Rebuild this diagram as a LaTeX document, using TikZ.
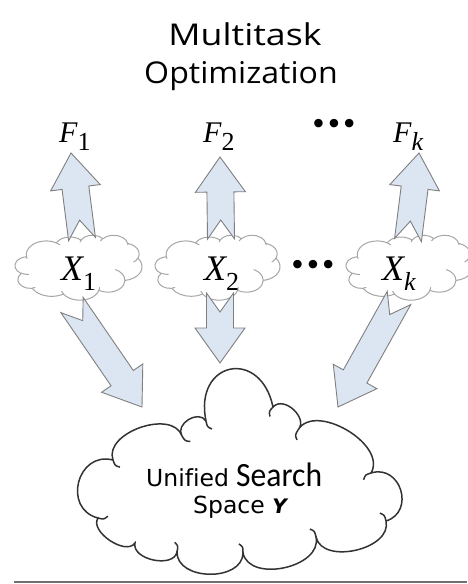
\documentclass[tikz,border=0pt]{standalone}
\usepackage{fontspec}
\setmainfont{Carlito}
\newfontfamily\titlefont{Open Sans}
\newfontfamily\djv[Ligatures=NoCommon]{DejaVu Sans}
\newfontfamily\lser{Liberation Serif}
\usetikzlibrary{calc}
\definecolor{arrowfill}{HTML}{DCE6F2}
\definecolor{arrowline}{HTML}{7F7F7F}
\definecolor{cloudgray}{HTML}{A6A6A6}
\definecolor{clouddark}{HTML}{333333}
\definecolor{rulegray}{HTML}{707070}
\tikzset{
  arrowbody/.style={draw=arrowline, fill=arrowfill, line width=0.9pt, line join=miter},
  smallcloud/.style={draw=cloudgray, fill=white, line width=1pt},
  smallhook/.style={draw=cloudgray, line width=1pt},
  bigcloud/.style={draw=clouddark, fill=white, line width=1.5pt},
  bighook/.style={draw=clouddark, line width=1.5pt},
  flabel/.style={anchor=base west, inner sep=0pt, font=\lser\fontsize{30}{30}\selectfont},
  xlabel/.style={anchor=base west, inner sep=0pt, font=\lser\fontsize{36}{36}\selectfont},
  dotslabel/.style={inner sep=0pt, font=\djv\bfseries\fontsize{24}{24}\selectfont},
  cloudtext/.style={anchor=base west, inner sep=0pt, font=\djv\fontsize{23.5}{23.5}\selectfont},
}
% elliptical arc with DrawingML (visual) angles
\newcommand{\pcarc}[4]{arc[x radius=#1, y radius=#2,
  start angle={atan2((#1)*sin(#3),(#2)*cos(#3))},
  delta angle={mod(atan2((#1)*sin((#3)+(#4)),(#2)*cos((#3)+(#4)))-atan2((#1)*sin(#3),(#2)*cos(#3))+720,360)}]}
% small cloud: left, top, width, height
\newcommand{\pptcloud}[4]{%
  \pgfmathsetmacro\cwx{#3/432}\pgfmathsetmacro\cwy{#4/432}%
  \begin{scope}[shift={(#1pt,-#2pt)}, x=\cwx pt, y=-\cwy pt]
    \path[smallcloud] (39,143.7)
      \pcarc{67.53}{91.90}{-190.48748}{123.78053}
      \pcarc{53.33}{72.67}{-144.10238}{89.94523}
      \pcarc{43.65}{59.45}{-145.80792}{99.72302}
      \pcarc{48.57}{65.95}{-130.98607}{117.24173}
      \pcarc{53.33}{72.73}{-78.70888}{109.02692}
      \pcarc{67.75}{92.20}{-46.26725}{130.269}
      \pcarc{57.85}{78.67}{0.62502}{114.03333}
      \pcarc{67.52}{92.15}{22.4516}{115.17255}
      \pcarc{77.20}{105.43}{66.24263}{75.71102}
      \pcarc{43.60}{59.18}{-274.94208}{146.73557}
      \pcarc{43.45}{59.45}{-246.8285}{152.51885} -- cycle;
    \path[smallhook]
      (46.93,261.77) \pcarc{43.45}{59.45}{86.742}{26.4295}
      (69.28,348.99) \pcarc{43.60}{59.18}{73.61047}{11.44747}
      (164.78,390.90) \pcarc{67.52}{92.15}{137.62415}{14.0811}
      (288.27,347.51) \pcarc{67.52}{92.15}{6.45327}{15.99835}
      (341.29,229.54) \pcarc{57.85}{78.67}{-70.29235}{70.91737}
      (417.98,153.54) \pcarc{53.33}{72.73}{30.31803}{27.7515}
      (383.24,54.26) \pcarc{48.57}{65.95}{-13.74433}{14.8589}
      (290.78,39.52) \pcarc{48.57}{65.95}{-149.18145}{18.19537}
      (221.41,47.20) \pcarc{43.65}{59.45}{-163.49427}{17.68635}
      (140.00,51.92) \pcarc{67.53}{91.90}{-66.70695}{12.31935}
      (41.27,157.89) \pcarc{67.53}{91.90}{157.65435}{11.85817};
  \end{scope}}
% one outward bump of the big cloud from cusp #1 to cusp #2
\newcommand{\bump}[3]{.. controls ($(#1)!#3pt!90:(#2)$) and ($(#2)!#3pt!-90:(#1)$) .. (#2)}
% inner hook at cusp #1, curving towards the next cusp #2
\newcommand{\hook}[2]{\draw[bighook] (#1) .. controls ($(#1)!6pt!-90:(#2)$) .. ($(#1)!10pt!-65:(#2)$);}
\def\aw{13.5pt}\def\ah{25pt}\def\al{35pt}\def\an{19pt}
% notched block arrow from tail coordinate #1 to tip coordinate #2
\newcommand{\blockarrow}[2]{%
  \draw[arrowbody] let \p1=(#1), \p2=(#2), \n1={atan2(\y2-\y1,\x2-\x1)} in
    ($(\p1)+(\n1+90:\aw)$) -- ($(\p1)+(\n1:\an)$) -- ($(\p1)+(\n1-90:\aw)$)
    -- ($(\p2)+(\n1+180:\al)+(\n1-90:\aw)$) -- ($(\p2)+(\n1+180:\al)+(\n1-90:\ah)$)
    -- (\p2) -- ($(\p2)+(\n1+180:\al)+(\n1+90:\ah)$)
    -- ($(\p2)+(\n1+180:\al)+(\n1+90:\aw)$) -- cycle;}
\begin{document}
\begin{tikzpicture}[x=1pt,y=-1pt]
\useasboundingbox (0,0) rectangle (467,584);
% title
\node[anchor=base, inner sep=0pt, font=\titlefont\fontsize{30}{30}\selectfont, xscale=1.19, transform shape] (title1) at (245,45) {Multitask};
\node[anchor=base, inner sep=0pt, font=\titlefont\fontsize{30}{30}\selectfont, xscale=1.07, transform shape] (title2) at (241,83) {Optimization};
% small clouds
\pptcloud{15}{235}{127}{65}
\pptcloud{155}{235}{125}{65}
\pptcloud{346}{235}{127}{65}
% big cloud cusps
\coordinate (c1) at (206,421);  \coordinate (c2) at (273,407);
\coordinate (c3) at (298,430);  \coordinate (c4) at (371,473);
\coordinate (c5) at (386,521);  \coordinate (c6) at (316,537);
\coordinate (c7) at (243,553);  \coordinate (c8) at (177,552);
\coordinate (c9) at (135,543);  \coordinate (c10) at (98,518);
\coordinate (c11) at (113,460); \coordinate (c12) at (182,436);
\draw[bigcloud] (c1) \bump{c1}{c2}{61} \bump{c2}{c3}{16} \bump{c3}{c4}{33}
  \bump{c4}{c5}{31} \bump{c5}{c6}{29} \bump{c6}{c7}{31} \bump{c7}{c8}{29}
  \bump{c8}{c9}{17} \bump{c9}{c10}{16} \bump{c10}{c11}{37} \bump{c11}{c12}{29}
  \bump{c12}{c1}{14} -- cycle;
\hook{c1}{c2} \hook{c2}{c3} \hook{c3}{c4} \hook{c4}{c5} \hook{c5}{c6}
\hook{c6}{c7} \hook{c7}{c8} \hook{c8}{c9} \hook{c10}{c11} \hook{c11}{c12}
\hook{c12}{c1}
% arrow end points
\coordinate (t1u) at (82,239);  \coordinate (h1u) at (71,153);
\coordinate (t2u) at (221,239); \coordinate (h2u) at (220,157);
\coordinate (tku) at (408,240); \coordinate (hku) at (419,153);
\coordinate (t1d) at (72,305);  \coordinate (h1d) at (142,407);
\coordinate (t2d) at (220,293); \coordinate (h2d) at (220,363);
\coordinate (tkd) at (399,298); \coordinate (hkd) at (338,407);
\blockarrow{t1u}{h1u}
\blockarrow{t2u}{h2u}
\blockarrow{tku}{hku}
\blockarrow{t1d}{h1d}
\blockarrow{t2d}{h2d}
\blockarrow{tkd}{hkd}
% labels
\node[flabel] (F1) at (59,142) {\itshape F\raisebox{-0.27em}{\fontsize{26}{26}\selectfont\upshape 1}};
\node[flabel] (F2) at (203,142) {\itshape F\raisebox{-0.27em}{\fontsize{26}{26}\selectfont\upshape 2}};
\node[flabel] (Fk) at (393,142) {\itshape F\raisebox{-0.27em}{\fontsize{26}{26}\selectfont k}};
\node[dotslabel] (dots1) at (334,126) {•••};
\node[xlabel] (X1) at (61,280) {\itshape X\raisebox{-0.28em}{\fontsize{26}{26}\selectfont\upshape 1}};
\node[xlabel] (X2) at (204,280) {\itshape X\raisebox{-0.28em}{\fontsize{26}{26}\selectfont\upshape 2}};
\node[xlabel] (Xk) at (382,280) {\itshape X\raisebox{-0.28em}{\fontsize{26}{26}\selectfont k}};
\node[dotslabel] (dots2) at (313,267) {•••};
% big cloud text
\node[cloudtext] (unified) at (146,486) {Unified};
\node[anchor=base west, inner sep=0pt, font=\fontsize{34}{34}\selectfont, xscale=0.93, transform shape] (search) at (236,486) {Search};
\node[cloudtext] (space) at (193,513) {Space {\fontsize{20}{20}\selectfont\bfseries\itshape Y}};
% bottom rule
\coordinate (ruleL) at (14,582); \coordinate (ruleR) at (467,582);
\draw[rulegray, line width=2pt] (ruleL) -- (ruleR);
\end{tikzpicture}
\end{document}
